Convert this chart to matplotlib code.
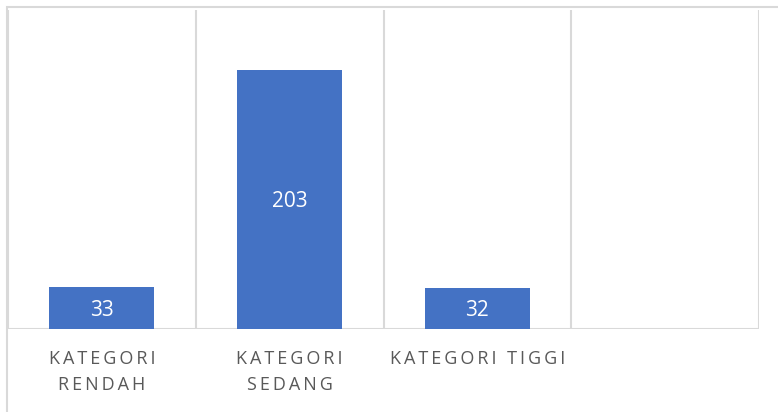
import matplotlib
matplotlib.use("Agg")
import matplotlib.pyplot as plt
from matplotlib.patches import Rectangle

categories = ["KATEGORI RENDAH", "KATEGORI SEDANG", "KATEGORI TIGGI", ""]
label_lines = [["KATEGORI", "RENDAH"], ["KATEGORI", "SEDANG"], ["KATEGORI TIGGI"], []]
values = [33, 203, 32, None]

plt.rcParams['font.family'] = ['Open Sans', 'DejaVu Sans']

W, H = 778, 412
fig = plt.figure(figsize=(W / 100, H / 100), dpi=100)
ax = fig.add_axes([8 / W, (H - 329) / H, (759 - 8) / W, (329 - 10) / H])

grid_col = "#d9d9d9"
bar_col = "#4472C4"
txt_col = "#595959"

xs = list(range(len(categories)))
bx = [x for x, v in zip(xs, values) if v is not None]
bv = [v for v in values if v is not None]
bars = ax.bar(bx, bv, width=0.56, color=bar_col, zorder=3)
for x, v in zip(bx, bv):
    ax.annotate(str(v), (x, v / 2), xytext=(0, -5.6), textcoords="offset points",
                ha="center", va="baseline", color="white", fontsize=15, zorder=4)

ax.set_xlim(-0.5, len(categories) - 0.5)
ax.set_ylim(0, 250)
for b in [i - 0.5 for i in range(len(categories) + 1)]:
    ax.axvline(b, color=grid_col, lw=1.5, zorder=1)
ax.axhline(0, color=grid_col, lw=1.5, zorder=2)
for s in ax.spines.values():
    s.set_visible(False)
ax.set_xticks([])
ax.set_yticks([])

def spaced(s):
    return "\u2009".join(s)

for x, lines in zip(xs, label_lines):
    for i, line in enumerate(lines):
        ypix = 364.5 + i * 25.5
        ax.text(x, -(ypix - 329) / (329 - 10), spaced(line), ha="center",
                va="baseline", color=txt_col, fontsize=13,
                transform=ax.get_xaxis_transform(), clip_on=False)

# chart-area border (cut off at right and bottom)
fig.patches.append(Rectangle((7 / W, -0.1), 1.2, (H - 7) / H + 0.1,
                             transform=fig.transFigure, fill=False,
                             edgecolor=grid_col, lw=1.5))

fig.savefig("out.png", dpi=100)
